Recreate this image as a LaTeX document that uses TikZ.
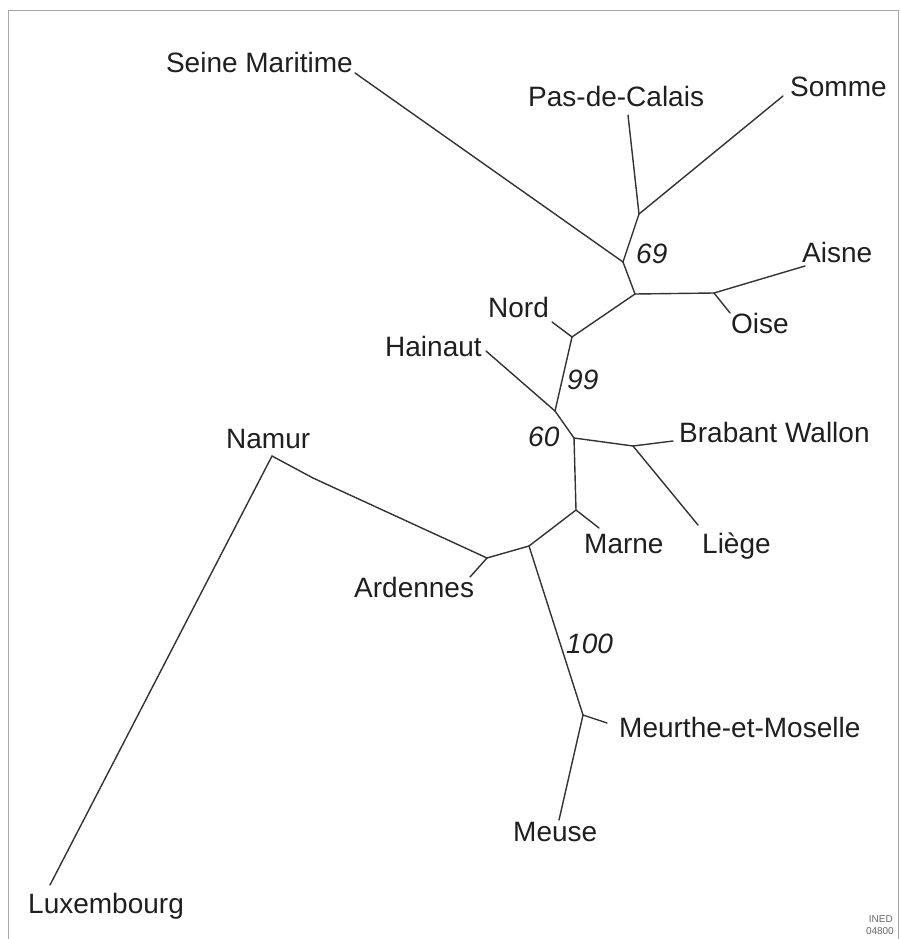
\documentclass[tikz,border=0pt]{standalone}
\usepackage{fontspec}
\setmainfont{Liberation Sans}
\begin{document}
\begin{tikzpicture}[x=1pt,y=-1pt,
  lab/.style={font=\fontsize{28}{30}\selectfont, text=black!88, inner sep=0pt, anchor=base west},
  boot/.style={font=\fontsize{28}{30}\selectfont\itshape, text=black!88, inner sep=0pt, anchor=base west},
  tiny/.style={font=\fontsize{10}{11}\selectfont, text=black!60, inner sep=0pt, anchor=base east},
  br/.style={draw=black!80, line width=1.4pt, line cap=round, line join=round},
  frame/.style={draw=black!35, line width=1pt}]
\useasboundingbox (0,0) rectangle (900,939);
\draw[frame] (8,939) -- (8,11) -- (898,11) -- (898,939);
% internal nodes
\coordinate (n69) at (623,262);
\coordinate (nPS) at (639,214);
\coordinate (nA) at (635,294);
\coordinate (nAO) at (714,293);
\coordinate (nN) at (572,337);
\coordinate (n60) at (555,411);
\coordinate (nB) at (574,438);
\coordinate (nBL) at (633,446);
\coordinate (nM) at (576,510);
\coordinate (nX) at (529,546);
\coordinate (nAr) at (487,558);
\coordinate (nNaK) at (313,478);
\coordinate (nNa) at (272,456);
\coordinate (nMM) at (583,715);
% leaf ends
\coordinate (eSM) at (355,73);
\coordinate (ePC) at (628,115);
\coordinate (eSo) at (783,96);
\coordinate (eAi) at (805,266);
\coordinate (eOi) at (730,313);
\coordinate (eNo) at (552,322);
\coordinate (eHa) at (486,351);
\coordinate (eBW) at (673,441);
\coordinate (eLi) at (698,525);
\coordinate (eMa) at (599,528);
\coordinate (eAr) at (470,577);
\coordinate (eLu) at (50,885);
\coordinate (eMe) at (607,723);
\coordinate (eMs) at (559,820);
% branches
\draw[br] (eSM) -- (n69);
\draw[br] (n69) -- (nPS);
\draw[br] (nPS) -- (ePC);
\draw[br] (nPS) -- (eSo);
\draw[br] (n69) -- (nA);
\draw[br] (nA) -- (nAO);
\draw[br] (nAO) -- (eAi);
\draw[br] (nAO) -- (eOi);
\draw[br] (nA) -- (nN);
\draw[br] (nN) -- (eNo);
\draw[br] (nN) -- (n60);
\draw[br] (eHa) -- (n60);
\draw[br] (n60) -- (nB);
\draw[br] (nB) -- (nBL);
\draw[br] (nBL) -- (eBW);
\draw[br] (nBL) -- (eLi);
\draw[br] (nB) -- (nM);
\draw[br] (nM) -- (eMa);
\draw[br] (nM) -- (nX);
\draw[br] (nX) -- (nAr);
\draw[br] (nAr) -- (eAr);
\draw[br] (nAr) -- (nNaK) -- (nNa);
\draw[br] (nNa) -- (eLu);
\draw[br] (nX) -- (nMM);
\draw[br] (nMM) -- (eMe);
\draw[br] (nMM) -- (eMs);
% labels
\node[lab, anchor=base east] (tSM) at (353,73) {Seine Maritime};
\node[lab] (tPC) at (528,107) {Pas-de-Calais};
\node[lab] (tSo) at (790,97) {Somme};
\node[lab] (tAi) at (802,262) {Aisne};
\node[lab] (tOi) at (731,333) {Oise};
\node[lab] (tNo) at (488,317) {Nord};
\node[lab] (tHa) at (385,356) {Hainaut};
\node[lab] (tNa) at (226,448) {Namur};
\node[lab] (tBW) at (679,442) {Brabant Wallon};
\node[lab] (tLi) at (702,553) {Liège};
\node[lab] (tMa) at (584,553) {Marne};
\node[lab] (tAr) at (354,597) {Ardennes};
\node[lab] (tLu) at (28,913) {Luxembourg};
\node[lab] (tMe) at (619,737) {Meurthe-et-Moselle};
\node[lab] (tMs) at (513,841) {Meuse};
\node[boot] (b69) at (636,263) {69};
\node[boot] (b99) at (567,389) {99};
\node[boot] (b60) at (528,446) {60};
\node[boot] (b100) at (566,653) {100};
\node[tiny] (ined) at (893,922) {INED};
\node[tiny] (num) at (894,934) {04800};
\end{tikzpicture}
\end{document}
